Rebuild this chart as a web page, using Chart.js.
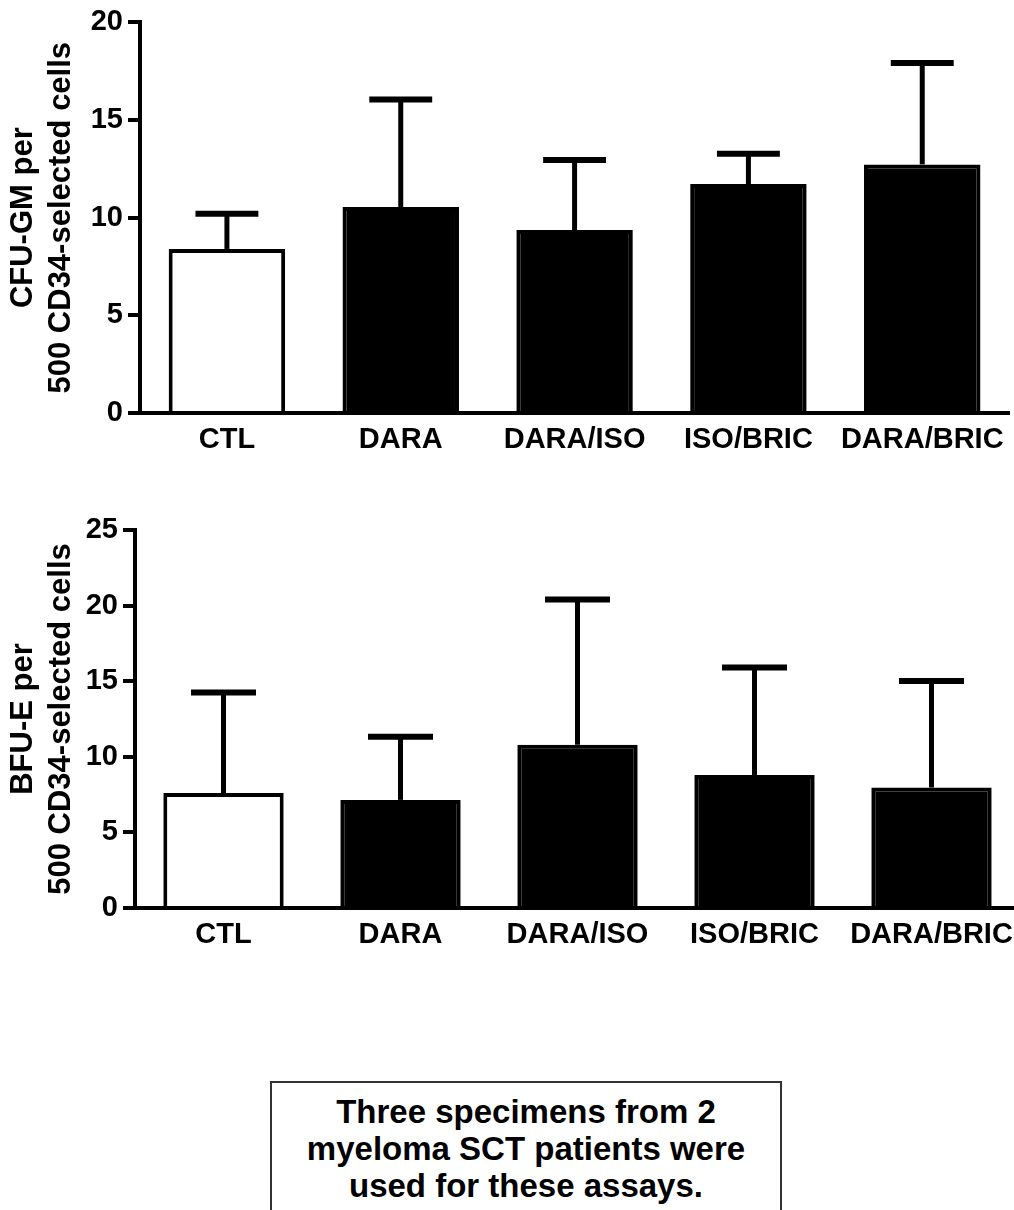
<!DOCTYPE html>
<html lang="en">
<head>
<meta charset="UTF-8">
<title>CFU-GM and BFU-E per 500 CD34-selected cells</title>
<script src="https://cdn.jsdelivr.net/npm/chart.js"></script>
<style>
    body {
        margin: 0;
        background: #fff;
        width: 1014px;
        height: 1210px;
        overflow: hidden;
        position: relative;
        font-family: "Liberation Sans", Arial, sans-serif;
    }
    #chart-gm {
        position: absolute;
        left: 0;
        top: 0;
    }
    #chart-bfu {
        position: absolute;
        left: 0;
        top: 500px;
    }
    .note {
        position: absolute;
        left: 270px;
        top: 1081px;
        width: 512px;
        height: 200px;
        border: 2px solid #333;
        padding-top: 10px;
        box-sizing: border-box;
        text-align: center;
        font-weight: bold;
        font-size: 33px;
        line-height: 37px;
        color: #000;
    }
</style>
</head>
<body>
<canvas id="chart-gm" width="1014" height="470"></canvas>
<canvas id="chart-bfu" width="1024" height="470"></canvas>
<div class="note">Three specimens from 2<br>myeloma SCT patients were<br>used for these assays.</div>

<script>
// categories and values
const categories = ['CTL', 'DARA', 'DARA/ISO', 'ISO/BRIC', 'DARA/BRIC'];

const gmMeans = [8.4, 10.55, 9.37, 11.72, 12.73];
const gmErrors = [1.8, 5.5, 3.58, 1.56, 5.19];
const gmTicks = [0, 5, 10, 15, 20];

const bfuMeans = [7.6, 7.15, 10.8, 8.8, 7.97];
const bfuErrors = [6.65, 4.18, 9.6, 7.1, 7.05];
const bfuTicks = [0, 5, 10, 15, 20, 25];

const barColors = ['#ffffff', '#000000', '#000000', '#000000', '#000000'];
const FONT = "'Liberation Sans', Arial, sans-serif";

// upper error bars (mean + error), drawn through the y scale
const errorBarPlugin = {
    id: 'errbars',
    afterDatasetsDraw(chart, args, opts) {
        const ctx = chart.ctx;
        const y = chart.scales.y;
        const meta = chart.getDatasetMeta(0);
        const data = chart.data.datasets[0].data;
        ctx.save();
        ctx.strokeStyle = '#000';
        ctx.lineCap = 'butt';
        meta.data.forEach((bar, i) => {
            const p = bar.getProps(['x', 'y', 'width'], true);
            const top = y.getPixelForValue(data[i] + opts.errors[i]);
            const half = p.width * 0.27;
            ctx.lineWidth = 5;
            ctx.beginPath();
            ctx.moveTo(p.x, p.y);
            ctx.lineTo(p.x, top);
            ctx.stroke();
            ctx.lineWidth = 6;
            ctx.beginPath();
            ctx.moveTo(p.x - half, top);
            ctx.lineTo(p.x + half, top);
            ctx.stroke();
        });
        ctx.restore();
    }
};

function makeChart(id, means, errors, ticks, title, opt) {
    return new Chart(document.getElementById(id), {
        type: 'bar',
        data: {
            labels: categories,
            datasets: [{
                data: means,
                backgroundColor: barColors,
                borderColor: '#000',
                borderWidth: 4,
                borderSkipped: 'start',
                categoryPercentage: 1,
                barPercentage: opt.barPct
            }]
        },
        options: {
            responsive: false,
            animation: false,
            devicePixelRatio: 1,
            layout: {
                padding: { top: opt.top, right: 4, left: 0, bottom: 0 }
            },
            plugins: {
                legend: { display: false },
                tooltip: { enabled: false },
                errbars: { errors: errors }
            },
            scales: {
                x: {
                    grid: { display: false, drawTicks: false, tickLength: 0 },
                    border: { display: true, color: '#000', width: 4 },
                    ticks: {
                        color: '#000',
                        padding: 10,
                        maxRotation: 0,
                        autoSkip: false,
                        font: { family: FONT, size: 29, weight: 'bold' }
                    },
                    afterFit: (s) => { s.height = opt.xHeight; }
                },
                y: {
                    min: ticks[0],
                    max: ticks[ticks.length - 1],
                    afterBuildTicks: (s) => { s.ticks = ticks.map(v => ({ value: v })); },
                    grid: {
                        drawOnChartArea: false,
                        drawTicks: true,
                        tickLength: 12,
                        lineWidth: 4,
                        color: '#000'
                    },
                    border: { display: true, color: '#000', width: 4 },
                    ticks: {
                        color: '#000',
                        padding: 5,
                        font: { family: FONT, size: 29, weight: 'bold' }
                    },
                    title: {
                        display: true,
                        text: title,
                        color: '#000',
                        padding: { top: 4, bottom: 0 },
                        font: { family: FONT, size: 31, weight: 'bold', lineHeight: 1.23 }
                    },
                    afterFit: (s) => { s.width = opt.left; }
                }
            }
        },
        plugins: [errorBarPlugin]
    });
}

makeChart('chart-gm', gmMeans, gmErrors, gmTicks,
    ['CFU-GM per', '500 CD34-selected cells'],
    { top: 21, left: 140, xHeight: 57, barPct: 0.67 });

makeChart('chart-bfu', bfuMeans, bfuErrors, bfuTicks,
    ['BFU-E per', '500 CD34-selected cells'],
    { top: 30, left: 135, xHeight: 62, barPct: 0.68 });
</script>
</body>
</html>
